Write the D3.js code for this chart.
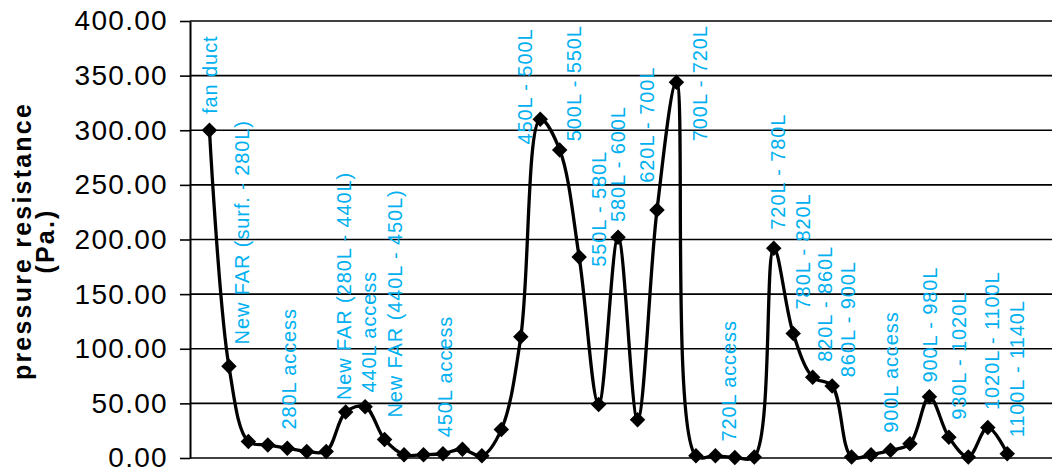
<!DOCTYPE html>
<html lang="en">
<head>
<meta charset="utf-8">
<title>Pressure resistance</title>
<script src="https://cdn.jsdelivr.net/npm/d3@7"></script>
<style>
  body { margin: 0; background: #fff; }
  svg { display: block; font-family: "Liberation Sans", Arial, sans-serif; }
  .tick text { font-size: 28px; letter-spacing: 1.3px; fill: #000; }
  .lbl { font-size: 20px; letter-spacing: 0.9px; fill: #00b0f0; }
</style>
</head>
<body>
<div id="chart"></div>
<script>
// resistance per section, one value per point (Pa.)
let values = [300, 84, 15, 12, 9, 6, 6, 42, 47, 17, 3, 3, 4, 8, 2,
  26, 111, 310, 282, 184, 49, 202, 35, 227, 344, 2, 2, 0.5, 1, 192,
  114, 74, 66, 1, 3, 7, 13, 56, 19, 1, 28, 4]

// section names, hung over the curve where they sit in the picture
let labelNames = ["fan duct", "New FAR (surf. - 280L)", "280L access", "New FAR (280L - 440L)",
  "440L access", "New FAR (440L - 450L)", "450L access", "450L - 500L", "500L - 550L",
  "550L - 580L", "580L - 600L", "620L - 700L", "700L - 720L", "720L access", "720L - 780L",
  "780L - 820L", "820L - 860L", "860L - 900L", "900L access", "900L - 980L", "930L - 1020L",
  "1020L - 1100L", "1100L - 1140L"]
// category position of each name
let labelAt = [0, 1.64, 4.1, 6.9, 8.2, 9.5, 12.1, 16.2, 18.7, 20.0, 21.0, 22.5, 25.2,
  26.7, 29.2, 30.5, 31.6, 32.8, 35.0, 37.0, 38.5, 40.2, 41.5]
// value where each name starts
let labelFrom = [315, 104, 26, 53, 60, 37, 19, 287, 290, 175, 216, 252, 290,
  15, 209, 136, 88, 74, 23, 69, 35, 44, 19]

let yTicks = [0, 50, 100, 150, 200, 250, 300, 350, 400]
let yTitle = ["pressure resistance", "(Pa.)"]

let width = 1052
let height = 473
let plotLeft = 190
let plotTop = 21
let plotBottom = 458

let svg = d3.select("#chart").append("svg")
  .attr("width", width).attr("height", height)

let x = d3.scaleLinear().domain([-1, 43.3]).range([plotLeft, width])
let y = d3.scaleLinear().domain([0, 400]).range([plotBottom, plotTop])

// grid
svg.append("g")
  .selectAll("line")
  .data(yTicks)
  .enter()
  .append("line")
    .attr("x1", plotLeft).attr("x2", width)
    .attr("y1", d => y(d)).attr("y2", d => y(d))
    .attr("stroke", "#000").attr("stroke-width", 1.6)

let yAxis = d3.axisLeft(y)
  .tickValues(yTicks)
  .tickFormat(d3.format(".2f"))
  .tickSize(10)
  .tickSizeOuter(0)
  .tickPadding(12)

let ga = svg.append("g")
  .attr("transform", "translate(" + plotLeft + ",0)")
  .call(yAxis)
ga.select(".domain").attr("stroke", "#000").attr("stroke-width", 2)
ga.selectAll(".tick line").attr("stroke", "#000").attr("stroke-width", 1.6)

// axis title
let title = svg.append("g")
  .attr("transform", "translate(0," + 241 + ") rotate(-90)")
title.selectAll("text")
  .data(yTitle)
  .enter()
  .append("text")
    .attr("x", 0)
    .attr("y", (d, i) => 31 + i * 23)
    .attr("text-anchor", "middle")
    .attr("font-weight", "bold")
    .attr("font-size", 25)
    .attr("letter-spacing", 2.2)
    .text(d => d)

// section names
svg.append("g")
  .selectAll("text")
  .data(labelNames)
  .enter()
  .append("text")
    .attr("class", "lbl")
    .attr("transform", (d, i) => "translate(" + x(labelAt[i]) + "," + y(labelFrom[i]) + ") rotate(-90)")
    .attr("dy", "0.36em")
    .text(d => d)

// smoothed line
let line = d3.line()
  .x((d, i) => x(i))
  .y(d => y(d))
  .curve(d3.curveCatmullRom.alpha(0.5))

svg.append("path")
  .datum(values)
  .attr("d", line)
  .attr("fill", "none")
  .attr("stroke", "#000")
  .attr("stroke-width", 3.3)

let diamond = d3.symbol().type(d3.symbolSquare).size(120)
svg.append("g")
  .selectAll("path")
  .data(values)
  .enter()
  .append("path")
    .attr("d", diamond)
    .attr("transform", (d, i) => "translate(" + x(i) + "," + y(d) + ") rotate(45)")
    .attr("fill", "#000")
</script>
</body>
</html>
